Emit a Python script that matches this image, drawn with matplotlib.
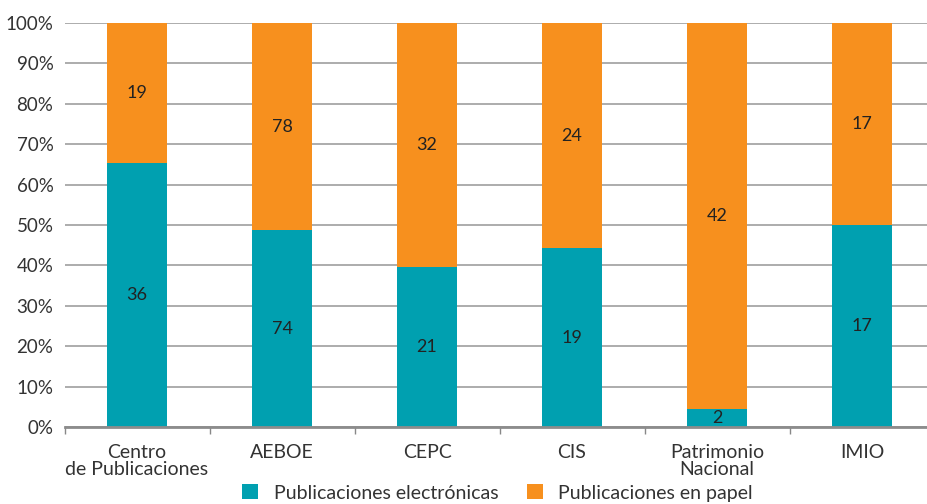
import matplotlib.pyplot as plt
import numpy as np

plt.rcParams['font.family'] = ['Lato', 'DejaVu Sans']

categories = ['Centro\nde Publicaciones', 'AEBOE', 'CEPC', 'CIS', 'Patrimonio\nNacional', 'IMIO']
electronicas = [36, 74, 21, 19, 2, 17]
papel = [19, 78, 32, 24, 42, 17]

teal = '#00A0B0'
orange = '#F7901E'

elec = np.array(electronicas, dtype=float)
pap = np.array(papel, dtype=float)
tot = elec + pap
pe = elec / tot * 100
pp = pap / tot * 100

fig = plt.figure(figsize=(9.27, 5.04), dpi=100)
ax = fig.add_axes([0.0696, 0.1528, 0.9385, 0.8016])

x = np.arange(len(categories))
w = 0.415
ax.bar(x, pe, width=w, color=teal, zorder=3, label='Publicaciones electrónicas')
ax.bar(x, pp, width=w, bottom=pe, color=orange, zorder=3, label='Publicaciones en papel')

# etiquetas con los valores absolutos
for i in range(len(x)):
    ax.text(x[i], pe[i] / 2, str(electronicas[i]), ha='center', va='center',
            fontsize=13, color='#222222', zorder=4)
    ax.text(x[i], pe[i] + pp[i] / 2, str(papel[i]), ha='center', va='center',
            fontsize=13, color='#222222', zorder=4)

ax.set_xlim(-0.5, len(categories) - 0.5)
ax.set_ylim(0, 100)
ax.set_yticks(np.arange(0, 101, 10))
ax.set_yticklabels([f'{v}%' for v in range(0, 101, 10)], fontsize=13.5, color='#333333')
ax.yaxis.grid(True, color='#a6a6a6', linewidth=1.3, zorder=0)
ax.tick_params(axis='y', length=0, pad=8)

ax.set_xticks(x)
ax.set_xticklabels(categories, fontsize=14, color='#333333', linespacing=1.05)
ax.set_xticks(np.arange(-0.5, len(categories)), minor=True)
ax.tick_params(axis='x', which='major', length=0, pad=12)
ax.tick_params(axis='x', which='minor', length=5, color='#888888', width=1)

for s in ['top', 'right', 'left']:
    ax.spines[s].set_visible(False)
ax.spines['bottom'].set_color('#8c8c8c')
ax.spines['bottom'].set_linewidth(2)
ax.spines['bottom'].set_zorder(5)

fig.legend(loc='lower center', bbox_to_anchor=(0.537, -0.03), ncol=2, frameon=False,
           fontsize=14, handlelength=0.8, handleheight=0.8, columnspacing=1.5,
           handletextpad=0.8, labelcolor='#333333')

fig.savefig('out.png', dpi=100)
